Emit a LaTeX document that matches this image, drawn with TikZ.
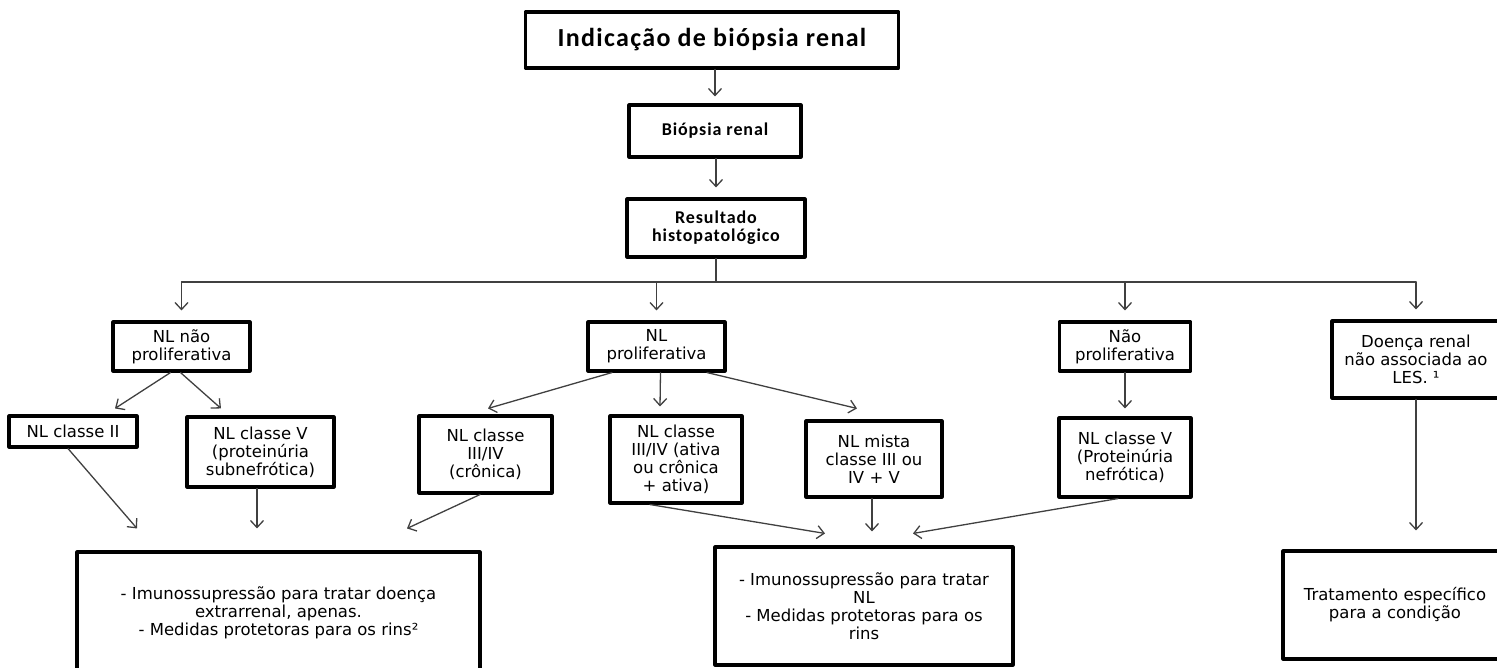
\documentclass[tikz,border=0pt]{standalone}
\usepackage{fontspec}
\setmainfont{DejaVu Sans}
\newfontfamily\titlefont[LetterSpace=5]{Carlito}
\usetikzlibrary{arrows.meta}

\begin{document}
\begin{tikzpicture}[line cap=round,line join=round,>={Straight Barb[length=7pt,width=13pt]},x=1pt,y=-1pt,
	caixa/.style={draw=black,line width=3.1pt,align=center,inner sep=0pt,font=\fontsize{16.5}{18}\selectfont},
	titulo/.style={caixa,font=\titlefont\bfseries\fontsize{18}{18}\selectfont},
	seta/.style={->,line width=1.3pt,color=black!75},
	linha/.style={line width=1.3pt,color=black!75}]
	\useasboundingbox (0,0) rectangle (1497,668);
	\node[titulo,font=\titlefont\bfseries\fontsize{26}{28}\selectfont,minimum width=373pt,minimum height=56pt] (ind) at (712,40) {Indicação de biópsia renal};
	\node[titulo,minimum width=172pt,minimum height=52pt] (bio) at (715,131) {Biópsia renal};
	\node[titulo,minimum width=178pt,minimum height=58pt] (res) at (716,228) {Resultado\\histopatológico};
	\coordinate (bus) at (0,282);
	\node[caixa,minimum width=137pt,minimum height=49pt] (nlnp) at (181.5,346.5) {NL não\\proliferativa};
	\node[caixa,minimum width=137pt,minimum height=49pt] (nlp) at (656.5,346.5) {NL\\proliferativa};
	\node[caixa,minimum width=131pt,minimum height=49pt] (np) at (1125,346.5) {Não\\proliferativa};
	\node[caixa,minimum width=168pt,minimum height=77pt] (dr) at (1416,359.5) {Doença renal\\não associada ao\\LES. ¹};
	\node[caixa,minimum width=128pt,minimum height=31pt] (c2) at (73,431.5) {NL classe II};
	\node[caixa,minimum width=147pt,minimum height=70pt] (c5s) at (260.5,452) {NL classe V\\(proteinúria\\subnefrótica)};
	\node[caixa,minimum width=133pt,minimum height=77pt] (c34c) at (485.5,454.5) {NL classe\\III/IV\\(crônica)};
	\node[caixa,minimum width=132pt,minimum height=87pt] (c34a) at (676,459.5) {NL classe\\III/IV (ativa\\ou crônica\\+ ativa)};
	\node[caixa,minimum width=136pt,minimum height=76pt] (mista) at (874,459) {NL mista\\classe III ou\\IV + V};
	\node[caixa,minimum width=132pt,minimum height=79pt] (c5n) at (1125,457.5) {NL classe V\\(Proteinúria\\nefrótica)};
	\node[caixa,minimum width=403pt,minimum height=122pt] (bl) at (278.5,613) {- Imunossupressão para tratar doença\\extrarrenal, apenas.\\- Medidas protetoras para os rins²};
	\node[caixa,minimum width=298pt,minimum height=118pt] (bm) at (864,606) {- Imunossupressão para tratar\\NL\\- Medidas protetoras para os\\rins};
	\node[caixa,minimum width=224pt,minimum height=108pt] (br) at (1395,605) {Tratamento específico\\para a condição};
	\draw[seta] (bio.north |- ind.south) -- ([yshift=7pt]bio.north);
	\draw[seta] (res.north |- bio.south) -- ([yshift=10pt]res.north);
	\draw[linha] (res.south) -- (res.south |- bus);
	\draw[linha] (bus -| nlnp.north) -- (bus -| dr.north);
	\foreach \n in {nlnp,nlp,np,dr}
		\draw[seta] (bus -| \n.north) -- ([yshift=10pt]\n.north);
	\draw[seta] ([xshift=-11pt]nlnp.south) -- ([xshift=42pt,yshift=6pt]c2.north);
	\draw[seta] ([xshift=-1pt]nlnp.south) -- ([xshift=-39.5pt,yshift=7pt]c5s.north);
	\draw[seta] ([xshift=-44.5pt]nlp.south) -- ([xshift=2.5pt,yshift=6pt]c34c.north);
	\draw[seta] ([xshift=4pt]nlp.south) -- ([xshift=-16pt,yshift=8pt]c34a.north);
	\draw[seta] ([xshift=50.5pt]nlp.south) -- ([xshift=-17pt,yshift=11pt]mista.north);
	\draw[seta] (np.south) -- ([yshift=8pt]c5n.north);
	\draw[seta] (dr.south) -- ([xshift=21pt,yshift=19pt]br.north);
	\draw[seta] ([xshift=-5pt]c2.south) -- ([xshift=-141.5pt,yshift=22pt]bl.north);
	\draw[seta] ([xshift=-3.5pt]c5s.south) -- ([xshift=-21.5pt,yshift=22pt]bl.north);
	\draw[seta] ([xshift=-5.5pt]c34c.south) -- ([xshift=128.5pt,yshift=22pt]bl.north);
	\draw[seta] ([xshift=-26pt]c34a.south) -- ([xshift=-39pt,yshift=12pt]bm.north);
	\draw[seta] ([xshift=-2pt]mista.south) -- ([xshift=8pt,yshift=14pt]bm.north);
	\draw[seta] ([xshift=-7pt]c5n.south) -- ([xshift=49pt,yshift=12pt]bm.north);
\end{tikzpicture}
\end{document}
